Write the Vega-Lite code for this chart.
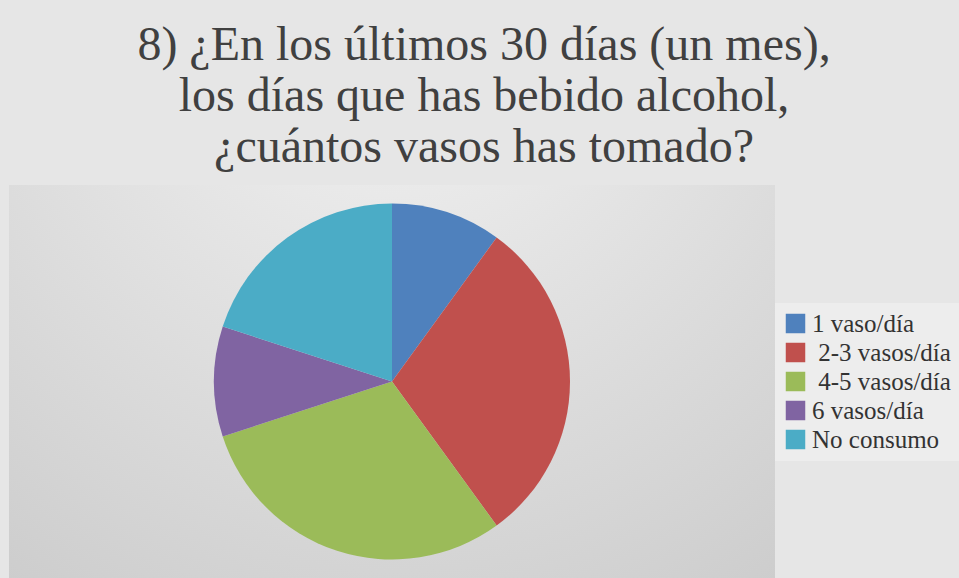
{
  "$schema": "https://vega.github.io/schema/vega-lite/v6.json",
  "width": 959,
  "height": 578,
  "autosize": {"type": "fit", "contains": "padding"},
  "padding": {"left": 9, "top": 22, "right": 0, "bottom": 0},
  "background": "#e6e6e6",
  "view": {
    "stroke": null,
    "fill": {
      "gradient": "radial",
      "x1": 0.5, "y1": 0, "r1": 0,
      "x2": 0.5, "y2": 0, "r2": 1.12,
      "stops": [
        {"offset": 0, "color": "#f4f4f4"},
        {"offset": 1, "color": "#c4c4c4"}
      ]
    }
  },
  "title": {
    "text": ["8) ¿En los últimos 30 días (un mes),", "los días que has bebido alcohol,", "¿cuántos vasos has tomado?"],
    "anchor": "middle",
    "frame": "bounds",
    "font": "Liberation Serif",
    "fontSize": 48,
    "fontWeight": "normal",
    "lineHeight": 51,
    "color": "#404040",
    "offset": 13
  },
  "data": {
    "values": [
      {"cat": "1 vaso/día", "n": 1, "ord": 1},
      {"cat": "\u200b\u00a02-3 vasos/día", "n": 3, "ord": 2},
      {"cat": "\u200b\u00a04-5 vasos/día", "n": 3, "ord": 3},
      {"cat": "6 vasos/día", "n": 1, "ord": 4},
      {"cat": "No consumo", "n": 2, "ord": 5}
    ]
  },
  "mark": {"type": "arc", "outerRadius": 178, "stroke": null},
  "encoding": {
    "theta": {"field": "n", "type": "quantitative", "stack": true},
    "order": {"field": "ord", "type": "quantitative"},
    "color": {
      "field": "cat",
      "type": "nominal",
      "sort": {"field": "ord"},
      "scale": {"range": ["#4f81bd", "#c0504d", "#9bbb59", "#8064a2", "#4bacc6"]},
      "legend": {
        "title": null,
        "orient": "right",
        "offset": 0,
        "padding": 8,
        "fillColor": "rgba(255,255,255,0.3)",
        "symbolType": "square",
        "symbolSize": 380,
        "symbolStrokeWidth": 0,
        "labelFont": "Liberation Serif",
        "labelFontSize": 25,
        "labelColor": "#333333",
        "labelOffset": 4,
        "rowPadding": 3,
        "labelLimit": 300
      }
    }
  },
  "config": {
    "legend": {"layout": {"right": {"anchor": "middle"}}}
  }
}
